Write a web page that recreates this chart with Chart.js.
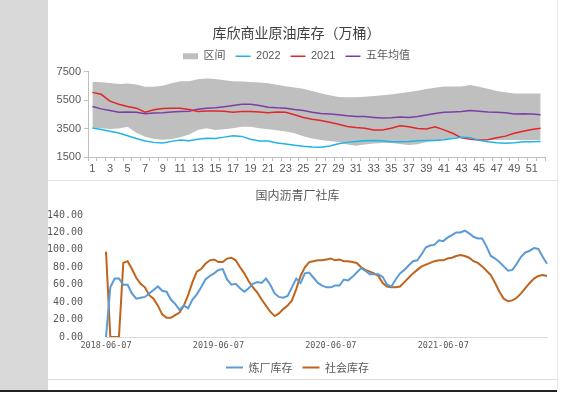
<!DOCTYPE html>
<html><head><meta charset="utf-8">
<script src="https://cdn.jsdelivr.net/npm/chart.js@4.4.1/dist/chart.umd.min.js"></script>
<style>
html,body{margin:0;padding:0;background:#fff;}
body{width:567px;height:394px;position:relative;overflow:hidden;}
.abs{position:absolute;}
</style></head>
<body>
<div class="abs" style="left:0;top:0;width:48px;height:390px;background:#d9d9d9"></div>
<div class="abs" style="left:48px;top:180px;width:509px;height:1px;background:#e3e3e3"></div>
<div class="abs" style="left:557px;top:0;width:1px;height:390px;background:#e6e6e6"></div>
<div class="abs" style="left:48px;top:379px;width:509px;height:1px;background:#dcdcdc"></div>
<div class="abs" style="left:48px;top:0;width:509px;height:180px"><canvas id="c1" width="509" height="180"></canvas></div>
<div class="abs" style="left:48px;top:181px;width:509px;height:202px"><canvas id="c2" width="509" height="202"></canvas></div>
<div class="abs" style="left:0;top:390px;width:557px;height:2px;background:#222"></div>
<script>
// ---- Chart 1: 库欣商业原油库存（万桶） ----
const weeks = [1,2,3,4,5,6,7,8,9,10,11,12,13,14,15,16,17,18,19,20,21,22,23,24,25,26,27,28,29,30,31,32,33,34,35,36,37,38,39,40,41,42,43,44,45,46,47,48,49,50,51,52];
const bandMax = [6800,6760,6720,6640,6670,6600,6450,6450,6520,6690,6840,6840,6980,7030,6990,6910,6840,6810,6790,6740,6690,6590,6490,6400,6300,6150,5990,5850,5720,5700,5710,5750,5790,5850,5910,5990,6080,6170,6280,6380,6470,6470,6470,6570,6450,6300,6150,6060,5980,5980,5980,5980];
const bandMin = [3580,3520,3480,3510,3630,3210,2920,2770,2720,2770,2890,3090,3410,3530,3410,3460,3530,3630,3630,3530,3460,3380,3290,3170,2970,2800,2700,2620,2550,2380,2300,2380,2450,2480,2480,2420,2350,2400,2550,2650,2750,2850,2900,2800,2720,2700,2700,2700,2700,2700,2700,2700];
const stock2022 = [3550,3430,3310,3190,3000,2800,2630,2530,2480,2600,2700,2650,2750,2820,2800,2900,3000,2950,2750,2630,2630,2480,2410,2330,2260,2210,2180,2280,2430,2530,2600,2650,2670,2650,2570,2570,2600,2650,2670,2670,2720,2800,2890,2850,2670,2570,2500,2470,2500,2570,2570,2600];
const stock2021 = [6050,5915,5430,5210,5060,4940,4650,4820,4910,4940,4940,4840,4700,4745,4745,4720,4650,4700,4700,4670,4620,4670,4650,4480,4280,4160,4070,3940,3800,3650,3580,3530,3410,3410,3530,3700,3630,3510,3480,3630,3410,3170,2850,2750,2700,2720,2850,2970,3170,3310,3430,3530];
const fiveYearAvg = [5060,4890,4770,4650,4670,4650,4550,4600,4620,4670,4700,4720,4870,4940,4960,5040,5130,5210,5210,5130,5010,4960,4940,4840,4770,4650,4570,4530,4480,4400,4350,4350,4290,4240,4260,4310,4290,4350,4450,4570,4650,4670,4700,4770,4720,4670,4650,4620,4530,4550,4530,4480];
const yTicks1 = [1500,3500,5500,7500];

// ---- Chart 2: 国内沥青厂社库 (biweekly) ----
const dateTicks = ['2018-06-07','2019-06-07','2020-06-07','2021-06-07'];
const refineryStock = [0,57,67,67,60,60,50,44,45,46,50,54,58,53,52,43,38,31,36,33,43,49,57,66,70,73,77,78,66,60,61,56,52,56,61,63,62,67,60,50,46,45,47,57,67,62,73,74,68,62,59,57,57,59,59,66,65,69,74,79,76,72,72,72,69,60,58,66,73,77,82,87,88,95,103,105,106,111,110,114,117,120,120,122,119,115,113,113,104,93,90,86,81,76,77,84,92,97,99,102,101,92,84];
const socialStock = [98,0,0,0,85,87,78,68,61,57,48,44,36,26,22,22,25,28,36,48,63,75,78,84,88,89,86,86,90,91,88,80,73,64,57,51,43,36,29,24,27,32,36,42,55,70,80,86,87,88,88,89,90,88,89,87,87,86,85,80,77,75,73,70,62,58,57,57,58,63,68,73,77,81,83,85,87,88,88,90,91,93,94,93,91,87,85,81,76,71,62,52,44,41,42,45,50,56,62,67,70,71,70];
const periods = refineryStock.map((_, i) => i);

const cBand = '#bfbfbf', c2022 = '#1fb4e6', c2021 = '#e3262a', cAvg = '#7a3fa6';
const cRef = '#5b9bd5', cSoc = '#c0631c';
const txt = '#595959';
const cjk = "'Noto Sans CJK SC', sans-serif";
const mono = "'DejaVu Sans Mono', 'Liberation Mono', monospace";

new Chart(document.getElementById('c1'), {
  type: 'line',
  data: {
    labels: weeks,
    datasets: [
      {label: '区间下限', data: bandMin, borderColor: 'rgba(0,0,0,0)', borderWidth: 0, pointRadius: 0, fill: false, order: 2},
      {label: '区间', data: bandMax, borderColor: 'rgba(0,0,0,0)', borderWidth: 0, pointRadius: 0, fill: '-1', backgroundColor: cBand, order: 1},
      {label: '2022', data: stock2022, borderColor: c2022, borderWidth: 1.5, pointRadius: 0, fill: false, order: 0},
      {label: '2021', data: stock2021, borderColor: c2021, borderWidth: 1.5, pointRadius: 0, fill: false, order: 0},
      {label: '五年均值', data: fiveYearAvg, borderColor: cAvg, borderWidth: 1.5, pointRadius: 0, fill: false, order: 0}
    ]
  },
  options: {
    responsive: false, animation: false, devicePixelRatio: 1,
    layout: {padding: {left: 0, right: 12, top: 0, bottom: 0}},
    plugins: {
      tooltip: {enabled: false},
      title: {display: true, text: '库欣商业原油库存（万桶）', color: '#404040', font: {family: cjk, size: 14, weight: 'normal'}, padding: {top: 24, bottom: 0}},
      legend: {
        display: true,
        labels: {
          usePointStyle: true, pointStyleWidth: 15, boxHeight: 6, padding: 10, color: txt,
          font: {family: "'Liberation Sans', " + cjk, size: 11},
          generateLabels: () => [
            {text: '区间', fillStyle: cBand, strokeStyle: cBand, lineWidth: 0, pointStyle: 'rect', hidden: false, datasetIndex: 1, fontColor: txt},
            {text: '2022', fillStyle: c2022, strokeStyle: c2022, lineWidth: 1.5, pointStyle: 'line', hidden: false, datasetIndex: 2, fontColor: txt},
            {text: '2021', fillStyle: c2021, strokeStyle: c2021, lineWidth: 1.5, pointStyle: 'line', hidden: false, datasetIndex: 3, fontColor: txt},
            {text: '五年均值', fillStyle: cAvg, strokeStyle: cAvg, lineWidth: 1.5, pointStyle: 'line', hidden: false, datasetIndex: 4, fontColor: txt}
          ]
        }
      }
    },
    scales: {
      x: {
        offset: true,
        grid: {display: true, drawOnChartArea: false, drawTicks: true, tickLength: 4, offset: true, color: cBand},
        border: {display: true, color: cBand},
        ticks: {autoSkip: false, maxRotation: 0, padding: 1, color: txt, font: {family: "'Liberation Sans', Arial", size: 11},
          callback: function(v, i) { return i % 2 === 0 ? String(weeks[i]) : ''; }},
        afterFit: s => { s.height = 23; }
      },
      y: {
        min: 1500, max: 7500,
        afterBuildTicks: s => { s.ticks = yTicks1.map(v => ({value: v})); },
        grid: {display: true, drawOnChartArea: false, drawTicks: true, tickLength: 4, color: cBand},
        border: {display: true, color: cBand},
        ticks: {padding: 3, color: txt, font: {family: "'Liberation Sans', Arial", size: 11}, callback: v => String(v)},
        afterFit: s => { s.width = 40; }
      }
    }
  }
});

new Chart(document.getElementById('c2'), {
  type: 'line',
  data: {
    labels: periods,
    datasets: [
      {label: '炼厂库存', data: refineryStock, borderColor: cRef, borderWidth: 2, pointRadius: 0, fill: false, tension: 0},
      {label: '社会库存', data: socialStock, borderColor: cSoc, borderWidth: 2, pointRadius: 0, fill: false, tension: 0}
    ]
  },
  options: {
    responsive: false, animation: false, devicePixelRatio: 1,
    layout: {padding: {left: 0, right: 10, top: 0, bottom: 0}},
    plugins: {
      tooltip: {enabled: false},
      title: {display: true, text: '国内沥青厂社库', color: txt, font: {family: cjk, size: 12, weight: 'normal'}, padding: {top: 7, bottom: 12.6}},
      legend: {
        display: true, position: 'bottom',
        labels: {
          usePointStyle: true, pointStyleWidth: 17, boxHeight: 6, padding: 10, color: txt,
          font: {family: cjk, size: 11},
          generateLabels: () => [
            {text: '炼厂库存', fillStyle: cRef, strokeStyle: cRef, lineWidth: 2, pointStyle: 'line', hidden: false, datasetIndex: 0, fontColor: txt},
            {text: '社会库存', fillStyle: cSoc, strokeStyle: cSoc, lineWidth: 2, pointStyle: 'line', hidden: false, datasetIndex: 1, fontColor: txt}
          ]
        }
      }
    },
    scales: {
      x: {
        offset: false,
        grid: {display: false, drawTicks: false},
        border: {display: true, color: '#d9d9d9'},
        ticks: {autoSkip: false, maxRotation: 0, padding: 4, color: txt, font: {family: mono, size: 8.5},
          callback: function(v, i) { return (i % 26 === 0 && dateTicks[i / 26]) ? dateTicks[i / 26] : ''; }},
        afterFit: s => { s.height = 15; }
      },
      y: {
        min: 0, max: 140,
        grid: {display: false},
        border: {display: false},
        ticks: {stepSize: 20, padding: 15, color: txt, font: {family: mono, size: 10},
          callback: v => Number(v).toFixed(2)},
        afterFit: s => { s.width = 58; }
      }
    }
  }
});
</script>
</body></html>
